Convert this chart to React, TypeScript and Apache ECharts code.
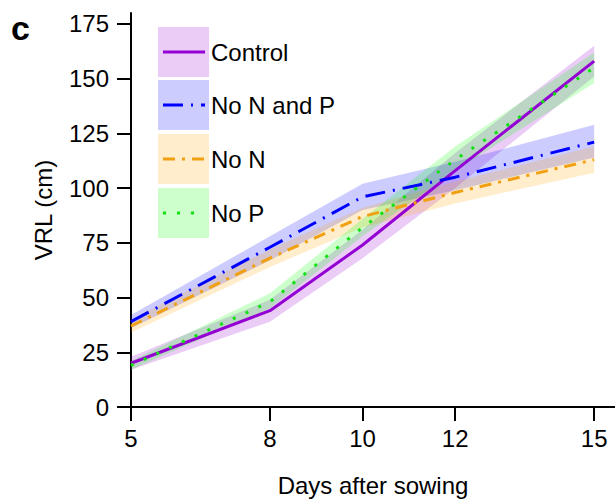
import React, { useEffect, useRef } from "react";
import * as echarts from "echarts";

const days = [5, 8, 10, 12, 15];
const xTicks = [5, 8, 10, 12, 15];
const yTicks = [0, 25, 50, 75, 100, 125, 150, 175];

const controlMean = [20, 44, 74, 108, 158];
const controlLo = [17, 39, 68, 100, 151];
const controlHi = [23, 49, 81, 116, 165];

const noNPMean = [39, 73, 96, 105, 121];
const noNPLo = [36, 67, 90, 99, 114];
const noNPHi = [42, 78, 102, 112, 129];

const noNMean = [37, 68, 87, 98, 113];
const noNLo = [34, 64, 82, 93, 107];
const noNHi = [40, 72, 91, 103, 119];

const noPMean = [19, 48, 82, 113, 155];
const noPLo = [17, 45, 78, 108, 148];
const noPHi = [21, 52, 86, 119, 162];

const seriesNames = ["Control", "No N and P", "No N", "No P"];
const lineColors = ["#9400d3", "#0000ff", "#f0a010", "#11e011"];
const bandColors = [
  "rgba(148,0,211,0.2)",
  "rgba(0,0,255,0.2)",
  "rgba(255,165,0,0.2)",
  "rgba(0,255,0,0.2)",
];
const dashes: (string | number[])[] = ["solid", [20, 8, 2, 8], [12, 7, 3, 7], [3, 11]];

const FONT = "'Liberation Sans', Arial, sans-serif";

export default function App() {
  const ref = useRef<HTMLDivElement>(null);
  useEffect(() => {
    if (!ref.current) return;
    const chart = echarts.init(ref.current, undefined, { renderer: "svg" });
    const groups = [
      [controlMean, controlLo, controlHi],
      [noNPMean, noNPLo, noNPHi],
      [noNMean, noNLo, noNHi],
      [noPMean, noPLo, noPHi],
    ];
    const series: any[] = [];
    groups.forEach((g, k) => {
      const [mean, lo, hi] = g;
      series.push({
        type: "custom",
        name: seriesNames[k] + " band",
        silent: true,
        clip: false,
        data: days.map((d, i) => [d, lo[i], hi[i]]),
        encode: { x: 0, y: [1, 2] },
        renderItem: (params: any, api: any) => {
          if (params.dataIndex !== 0) return null;
          const pts: number[][] = [];
          for (let i = 0; i < days.length; i++) pts.push(api.coord([days[i], hi[i]]));
          for (let i = days.length - 1; i >= 0; i--) pts.push(api.coord([days[i], lo[i]]));
          return {
            type: "polygon",
            shape: { points: pts },
            style: { fill: bandColors[k] },
          };
        },
      });
      series.push({
        type: "line",
        name: seriesNames[k],
        data: days.map((d, i) => [d, mean[i]]),
        symbol: "none",
        silent: true,
        lineStyle: { color: lineColors[k], width: 3, type: dashes[k], cap: "butt" },
      });
    });

    const legendTop = [27, 80, 134, 188];
    const graphics: any[] = [];
    legendTop.forEach((t, k) => {
      graphics.push({
        type: "rect",
        left: 158,
        top: t,
        shape: { width: 51, height: 50 },
        style: { fill: bandColors[k] },
      });
      graphics.push({
        type: "line",
        shape: { x1: 163, y1: t + 25, x2: 205, y2: t + 25 },
        style: {
          stroke: lineColors[k],
          lineWidth: 3,
          lineDash: dashes[k] === "solid" ? null : dashes[k],
        },
      });
      graphics.push({
        type: "text",
        x: 211,
        y: t + 25,
        style: {
          text: seriesNames[k],
          fill: "#000",
          font: `24px ${FONT}`,
          verticalAlign: "middle",
          align: "left",
        },
      });
    });
    graphics.push({
      type: "text",
      x: 11,
      y: 28,
      style: {
        text: "c",
        fill: "#000",
        font: `bold 34px ${FONT}`,
        verticalAlign: "middle",
        align: "left",
      },
    });

    chart.setOption({
      animation: false,
      grid: { left: 131, right: 0, top: 13, bottom: 93, containLabel: false },
      xAxis: {
        type: "value",
        min: 5,
        max: 15.45,
        name: "Days after sowing",
        nameLocation: "middle",
        nameGap: 66,
        nameTextStyle: { fontSize: 24, color: "#000", fontFamily: FONT },
        axisLine: { show: true, lineStyle: { color: "#000", width: 2 } },
        axisTick: { show: true, length: 14, lineStyle: { color: "#000", width: 2 }, customValues: xTicks },
        axisLabel: { fontSize: 24, color: "#000", fontFamily: FONT, margin: 19, customValues: xTicks },
        splitLine: { show: false },
      },
      yAxis: {
        type: "value",
        min: 0,
        max: 180,
        interval: 25,
        name: "VRL (cm)",
        nameLocation: "middle",
        nameGap: 76,
        nameTextStyle: { fontSize: 24, color: "#000", fontFamily: FONT },
        axisLine: { show: true, lineStyle: { color: "#000", width: 2 } },
        axisTick: { show: true, length: 14, lineStyle: { color: "#000", width: 2 }, customValues: yTicks },
        axisLabel: { fontSize: 24, color: "#000", fontFamily: FONT, margin: 22, customValues: yTicks },
        splitLine: { show: false },
      },
      series,
      graphic: graphics,
    });
    return () => chart.dispose();
  }, []);
  return <div ref={ref} style={{ width: 615, height: 502, position: "absolute", left: 0, top: 0 }} />;
}
